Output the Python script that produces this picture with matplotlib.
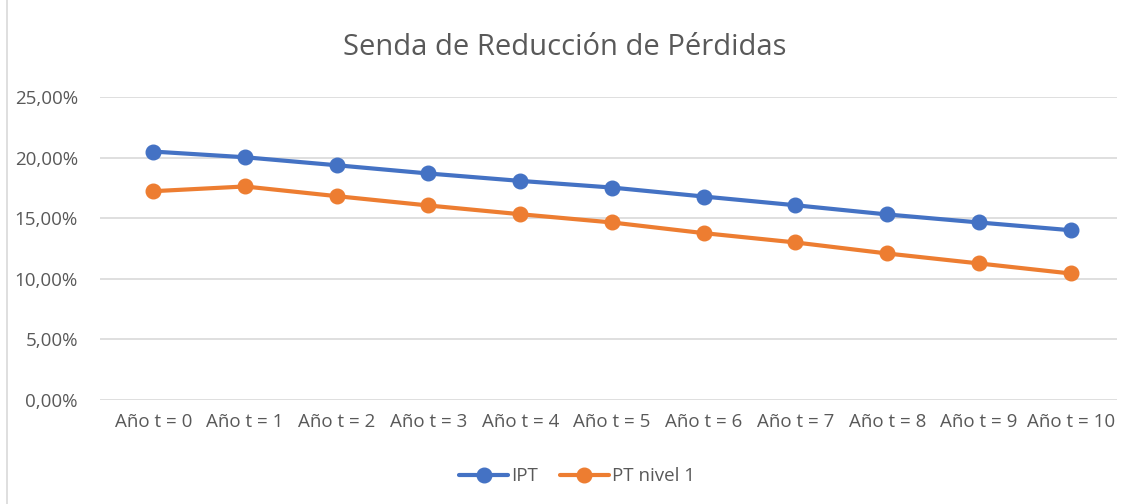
import matplotlib
matplotlib.use("Agg")
import matplotlib.pyplot as plt
from matplotlib.patches import Rectangle
from matplotlib.ticker import FuncFormatter

plt.rcParams["font.family"] = ["Open Sans", "DejaVu Sans"]

categories = [f"Año t = {i}" for i in range(11)]
ipt = [20.50, 20.03, 19.37, 18.69, 18.08, 17.53, 16.79, 16.07, 15.31, 14.65, 14.01]
pt_nivel1 = [17.23, 17.62, 16.82, 16.05, 15.33, 14.65, 13.77, 13.00, 12.09, 11.27, 10.44]
yticks = [0, 5, 10, 15, 20, 25]

BLUE = "#4472C4"
ORANGE = "#ED7D31"
TEXT = "#595959"
GRID = "#D9D9D9"

fig = plt.figure(figsize=(11.29, 5.04), dpi=100)
ax = fig.add_axes([0.0886, 0.2063, 0.9004, 0.6012])

x = list(range(len(categories)))
ax.plot(x, ipt, color=BLUE, lw=3.0, marker="o", ms=10.5, label="IPT", solid_capstyle="round")
ax.plot(x, pt_nivel1, color=ORANGE, lw=3.0, marker="o", ms=10.5, label="PT nivel 1", solid_capstyle="round")

ax.set_ylim(0, 25)
ax.set_xlim(-0.58, 10.5)
ax.set_yticks(yticks)
ax.yaxis.set_major_formatter(FuncFormatter(lambda v, p: f"{v:.2f}%".replace(".", ",")))
ax.set_xticks(x)
ax.set_xticklabels(categories)
ax.tick_params(axis="both", length=0, labelsize=13.5, colors=TEXT)
ax.tick_params(axis="x", pad=9)
ax.tick_params(axis="y", pad=16)
ax.grid(axis="y", color=GRID, lw=1.2)
ax.set_axisbelow(True)
for s in ax.spines.values():
    s.set_visible(False)

fig.text(0.5, 0.905, "Senda de Reducción de Pérdidas", ha="center", va="center",
         fontsize=21, color=TEXT)

leg = fig.legend(loc="center", bbox_to_anchor=(0.511, 0.055), ncol=2, frameon=False,
                 fontsize=13.5, handlelength=2.6, columnspacing=1.2, handletextpad=0.15)
for t in leg.get_texts():
    t.set_color(TEXT)

fig.patches.append(Rectangle((0.006, -0.01), 1.1, 1.1, transform=fig.transFigure,
                             fill=False, edgecolor=GRID, lw=1.2))

fig.savefig("out.png", dpi=100)
